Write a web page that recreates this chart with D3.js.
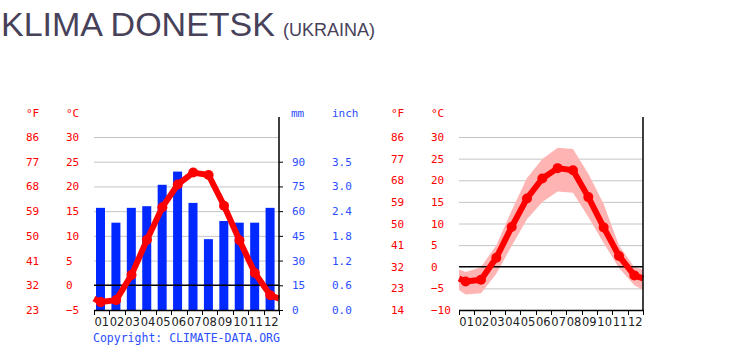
<!DOCTYPE html>
<html><head><meta charset="utf-8">
<script src="https://cdn.jsdelivr.net/npm/d3@7"></script>
<style>
html,body{margin:0;padding:0;background:#fff;}
svg{display:block;}
</style></head>
<body>
<script>
const months = ["01","02","03","04","05","06","07","08","09","10","11","12"];
const precipMM = [62, 53, 62, 63, 76, 84, 65, 43, 54, 53, 53, 62];
const tempMean = [-3.4, -3.0, 2.1, 9.2, 15.8, 20.4, 22.8, 22.3, 16.1, 9.1, 2.5, -2.0];
const tempMax = [-1.2, -0.1, 5.0, 13.0, 20.5, 24.9, 27.5, 27.2, 21.5, 14.5, 4.9, -0.1];
const tempMin = [-6.4, -6.1, -1.6, 4.8, 11.0, 15.0, 17.4, 17.1, 11.5, 5.5, -0.3, -4.3];
const cTicksLeft = [30, 25, 20, 15, 10, 5, 0, -5];
const fTicksLeft = ["86", "77", "68", "59", "50", "41", "32", "23"];
const cTicksRight = [30, 25, 20, 15, 10, 5, 0, -5, -10];
const fTicksRight = ["86", "77", "68", "59", "50", "41", "32", "23", "14"];
const mmTicks = [90, 75, 60, 45, 30, 15, 0];
const inchTicks = ["3.5", "3.0", "2.4", "1.8", "1.2", "0.6", "0.0"];

const W = 736, H = 354;
const RED = "#ff0000", BLUE = "#0028ff", BLUE_T = "#2a4dff", PINK = "#ffb4b4";
const MONO = "'DejaVu Sans Mono', monospace";
const svg = d3.select("body").append("svg").attr("width", W).attr("height", H);

// Title
const title = svg.append("text").attr("x", 1).attr("y", 36)
  .attr("font-family", "'Liberation Sans', Arial, sans-serif").attr("fill", "#474159");
title.append("tspan").attr("font-size", 34).text("KLIMA DONETSK");
title.append("tspan").attr("font-size", 18).attr("dx", 8).text("(UKRAINA)");

const fmtMinus = v => v < 0 ? "\u2212" + Math.abs(v) : String(v);

function drawChart(g, opts) {
  const x = d3.scaleBand().domain(months).range([opts.x0, opts.x1]);
  const y = d3.scaleLinear().domain(opts.cDomain).range([310, 137]);
  const bw = x.bandwidth();
  const cx = m => x(m) + bw / 2 - 1;

  // gridlines
  g.append("g").selectAll("line").data(opts.cTicks.filter(v => v !== 0 && v !== opts.cDomain[0]))
    .join("line")
    .attr("x1", opts.x0).attr("x2", opts.x1)
    .attr("y1", d => y(d) + 0.5).attr("y2", d => y(d) + 0.5)
    .attr("stroke", "#c4c4c4").attr("stroke-width", 1);

  // labels °F / °C
  g.append("text").attr("x", opts.fx).attr("y", 117).attr("font-family", MONO).attr("font-size", 11)
    .attr("fill", RED).text("°F");
  g.append("text").attr("x", opts.cx).attr("y", 117).attr("font-family", MONO).attr("font-size", 11)
    .attr("fill", RED).text("°C");
  g.append("g").selectAll("text").data(opts.cTicks).join("text")
    .attr("x", opts.cx).attr("y", d => y(d) + 4)
    .attr("font-family", MONO).attr("font-size", 11).attr("fill", RED)
    .text(d => fmtMinus(d));
  g.append("g").selectAll("text").data(opts.fTicks).join("text")
    .attr("x", opts.fx).attr("y", (d, i) => y(opts.cTicks[i]) + 4)
    .attr("font-family", MONO).attr("font-size", 11).attr("fill", RED)
    .text(d => d);

  if (opts.precip) {
    const yP = d3.scaleLinear().domain([0, 105]).range([310, 137]);
    g.append("g").selectAll("rect").data(precipMM).join("rect")
      .attr("x", (d, i) => x(months[i]) + 2).attr("width", 9)
      .attr("y", d => yP(d)).attr("height", d => yP(0) - yP(d))
      .attr("fill", BLUE);
    // right axis ticks and labels
    g.append("g").selectAll("line").data(mmTicks).join("line")
      .attr("x1", opts.x1).attr("x2", opts.x1 + 4)
      .attr("y1", d => yP(d) + 0.5).attr("y2", d => yP(d) + 0.5)
      .attr("stroke", "#000").attr("stroke-width", 1);
    g.append("text").attr("x", 291).attr("y", 117).attr("font-family", MONO).attr("font-size", 11)
      .attr("fill", BLUE_T).text("mm");
    g.append("text").attr("x", 332).attr("y", 117).attr("font-family", MONO).attr("font-size", 11)
      .attr("fill", BLUE_T).text("inch");
    g.append("g").selectAll("text").data(mmTicks).join("text")
      .attr("x", 292).attr("y", d => yP(d) + 4)
      .attr("font-family", MONO).attr("font-size", 11).attr("fill", BLUE_T).text(d => d);
    g.append("g").selectAll("text").data(inchTicks).join("text")
      .attr("x", 332).attr("y", (d, i) => yP(mmTicks[i]) + 4)
      .attr("font-family", MONO).attr("font-size", 11).attr("fill", BLUE_T).text(d => d);
  }

  // edge values (wrap-around between December and January)
  const edge = arr => (arr[0] + arr[11]) / 2;
  const pts = arr => [[opts.x0, edge(arr)]].concat(arr.map((v, i) => [cx(months[i]), v]), [[opts.x1, edge(arr)]]);

  if (opts.band) {
    const up = pts(tempMax), lo = pts(tempMin);
    const area = d3.area().x((d, i) => up[i][0]).y0((d, i) => y(lo[i][1])).y1(d => y(d[1]));
    g.append("path").datum(up).attr("d", area).attr("fill", PINK);
  }

  // zero line
  g.append("line").attr("x1", opts.x0).attr("x2", opts.x1)
    .attr("y1", y(0)).attr("y2", y(0)).attr("stroke", "#000").attr("stroke-width", 1.5);

  // temperature line
  const line = d3.line().x(d => d[0]).y(d => y(d[1]));
  g.append("path").datum(pts(tempMean)).attr("d", line)
    .attr("fill", "none").attr("stroke", RED).attr("stroke-width", 6)
    .attr("stroke-linejoin", "round");
  g.append("g").selectAll("circle").data(tempMean).join("circle")
    .attr("cx", (d, i) => cx(months[i])).attr("cy", d => y(d)).attr("r", 5)
    .attr("fill", RED);

  // axes
  g.append("line").attr("x1", opts.x1).attr("x2", opts.x1).attr("y1", 117).attr("y2", 311)
    .attr("stroke", "#000").attr("stroke-width", 1.5);
  g.append("line").attr("x1", opts.x0).attr("x2", opts.x1 + 0.75).attr("y1", 310.5).attr("y2", 310.5)
    .attr("stroke", "#000").attr("stroke-width", 1.5);
  const bounds = months.map(m => x(m)).concat([opts.x1]);
  g.append("g").selectAll("line").data(bounds).join("line")
    .attr("x1", d => Math.round(d) + 0.5).attr("x2", d => Math.round(d) + 0.5)
    .attr("y1", 310).attr("y2", 315).attr("stroke", "#000").attr("stroke-width", 1);
  g.append("g").selectAll("text").data(months).join("text")
    .attr("x", d => x(d) + bw / 2).attr("y", 326).attr("text-anchor", "middle")
    .attr("font-family", "'DejaVu Sans', sans-serif").attr("font-size", 11.5).attr("fill", "#222")
    .text(d => d);
}

drawChart(svg.append("g"), {
  x0: 94, x1: 279, cDomain: [-5, 30], cTicks: cTicksLeft, fTicks: fTicksLeft,
  fx: 26, cx: 66, precip: true, band: false
});
drawChart(svg.append("g"), {
  x0: 459, x1: 643, cDomain: [-10, 30], cTicks: cTicksRight, fTicks: fTicksRight,
  fx: 391, cx: 431, precip: false, band: true
});

svg.append("text").attr("x", 93).attr("y", 342).attr("font-family", MONO).attr("font-size", 11.5)
  .attr("fill", BLUE_T).text("Copyright: CLIMATE-DATA.ORG");
</script>
</body></html>
